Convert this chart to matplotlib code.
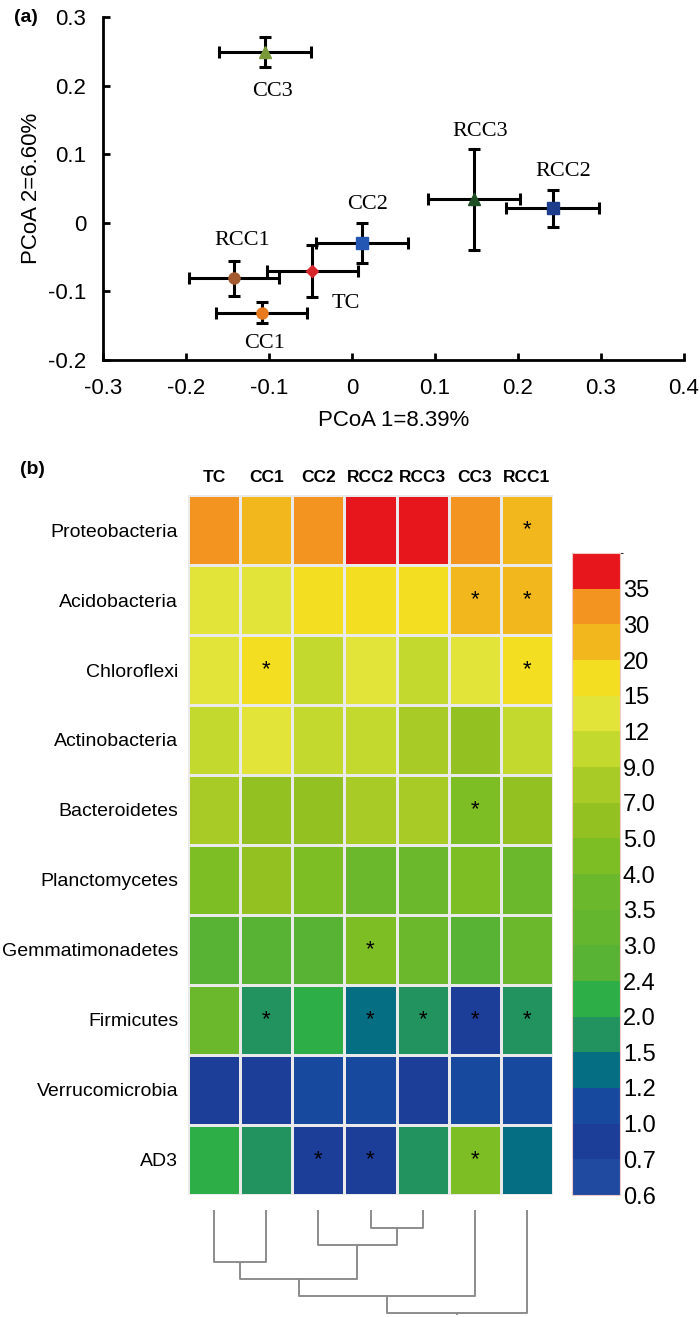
import numpy as np
import matplotlib
matplotlib.use('Agg')
import matplotlib.pyplot as plt
from matplotlib.colors import ListedColormap, BoundaryNorm

plt.rcParams['font.family'] = ['Liberation Sans', 'DejaVu Sans']
plt.rcParams['axes.unicode_minus'] = False

# ---- (a) PCoA data ----
groups = ['TC', 'CC1', 'CC2', 'RCC1', 'RCC2', 'RCC3', 'CC3']
pc1 = [-0.048, -0.109, 0.012, -0.142, 0.242, 0.147, -0.105]
pc2 = [-0.070, -0.131, -0.030, -0.081, 0.021, 0.034, 0.249]
pc1_err = [0.055, 0.055, 0.055, 0.054, 0.056, 0.055, 0.055]
pc2_err = [0.038, 0.015, 0.029, 0.026, 0.027, 0.074, 0.022]
label_pos = {'TC': (-0.008, -0.117), 'CC1': (-0.105, -0.176), 'CC2': (0.019, 0.027),
             'RCC1': (-0.132, -0.026), 'RCC2': (0.254, 0.075), 'RCC3': (0.154, 0.133),
             'CC3': (-0.096, 0.192)}
markers = {'TC': ('D', '#d7262b', 6), 'CC1': ('o', '#e97b1f', 8), 'CC2': ('s', '#2457b4', 8),
           'RCC1': ('o', '#a35a2e', 8), 'RCC2': ('s', '#1e3c8c', 8),
           'RCC3': ('^', '#1e4f24', 8), 'CC3': ('^', '#7a9a3a', 8)}

# ---- (b) heatmap data (relative abundance, %) ----
phyla = ['Proteobacteria', 'Acidobacteria', 'Chloroflexi', 'Actinobacteria', 'Bacteroidetes',
         'Planctomycetes', 'Gemmatimonadetes', 'Firmicutes', 'Verrucomicrobia', 'AD3']
samples = ['TC', 'CC1', 'CC2', 'RCC2', 'RCC3', 'CC3', 'RCC1']
abund = np.array([
    [32.0, 25.0, 31.0, 37.0, 36.0, 31.0, 24.0],
    [13.0, 13.0, 16.0, 16.0, 16.0, 21.0, 21.0],
    [13.5, 16.0, 10.0, 13.0, 10.5, 13.0, 15.5],
    [10.0, 12.5, 10.0, 10.0, 8.0, 6.0, 10.0],
    [8.0, 6.0, 6.0, 8.0, 8.0, 4.5, 6.0],
    [4.5, 5.5, 4.5, 3.7, 3.7, 4.5, 3.7],
    [2.7, 2.7, 2.8, 4.5, 3.7, 2.7, 3.7],
    [3.7, 1.7, 2.2, 1.3, 1.7, 0.8, 1.7],
    [0.8, 0.75, 1.1, 1.1, 0.8, 1.05, 1.1],
    [2.2, 1.7, 0.8, 0.8, 1.7, 4.5, 1.3],
])
signif = [('Proteobacteria', 'RCC1'), ('Acidobacteria', 'CC3'), ('Acidobacteria', 'RCC1'),
          ('Chloroflexi', 'CC1'), ('Chloroflexi', 'RCC1'), ('Bacteroidetes', 'CC3'),
          ('Gemmatimonadetes', 'RCC2'), ('Firmicutes', 'CC1'), ('Firmicutes', 'RCC2'),
          ('Firmicutes', 'RCC3'), ('Firmicutes', 'CC3'), ('Firmicutes', 'RCC1'),
          ('AD3', 'CC2'), ('AD3', 'RCC2'), ('AD3', 'CC3')]
bounds = [0.6, 0.7, 1.0, 1.2, 1.5, 2.0, 2.4, 3.0, 3.5, 4.0, 5.0, 7.0, 9.0, 12, 15, 20, 30, 35, 40]
bound_labels = ['0.6', '0.7', '1.0', '1.2', '1.5', '2.0', '2.4', '3.0', '3.5', '4.0', '5.0',
                '7.0', '9.0', '12', '15', '20', '30', '35']
level_colors = ['#1f4aa0', '#1c3d98', '#17499e', '#056e82', '#22925f', '#2dae47', '#58b233',
                '#64b62f', '#6cb82d', '#7dbe25', '#93c122', '#a9cb26', '#c3d92e', '#e3e43a',
                '#f3de22', '#f2b71d', '#f2941f', '#e7161c']
# column clustering: (left, right, height); leaves are 0..6, new clusters 7..
merges = [(3, 4, 1), (2, 7, 2), (0, 1, 3), (9, 8, 4), (10, 5, 5), (11, 6, 6)]

fig = plt.figure(figsize=(7, 13.17), dpi=100)

# ---------------- panel (a) ----------------
ax = fig.add_axes([103 / 700, 1 - 360 / 1317, 581 / 700, 343 / 1317])
ax.errorbar(pc1, pc2, xerr=pc1_err, yerr=pc2_err, fmt='none', ecolor='black',
            elinewidth=2.2, capsize=4.5, capthick=2.2, zorder=2)
for g, x, y in zip(groups, pc1, pc2):
    m, c, s = markers[g]
    ax.plot(x, y, marker=m, color=c, markersize=s, linestyle='none', zorder=3)
    lx, ly = label_pos[g]
    ax.text(lx, ly, g, family=['Liberation Serif', 'DejaVu Serif'], fontsize=16,
            ha='center', va='center')
ax.set_xlim(-0.3, 0.4)
ax.set_ylim(-0.2, 0.3)
ax.set_xticks([-0.3, -0.2, -0.1, 0, 0.1, 0.2, 0.3, 0.4])
ax.set_xticklabels(['-0.3', '-0.2', '-0.1', '0', '0.1', '0.2', '0.3', '0.4'])
ax.set_yticks([-0.2, -0.1, 0, 0.1, 0.2, 0.3])
ax.set_yticklabels(['-0.2', '-0.1', '0', '0.1', '0.2', '0.3'])
ax.spines['top'].set_visible(False)
ax.spines['right'].set_visible(False)
ax.spines['left'].set_linewidth(2)
ax.spines['bottom'].set_linewidth(2)
ax.tick_params(direction='in', length=5, width=2, labelsize=16)
ax.tick_params(axis='x', pad=13)
ax.tick_params(axis='y', pad=12)
ax.set_xlabel('PCoA 1=8.39%', fontsize=16, labelpad=8)
ax.set_ylabel('PCoA 2=6.60%', fontsize=16, labelpad=4)
fig.text(14 / 700, 1 - 18 / 1317, '(a)', fontsize=14, fontweight='bold', va='center')

# ---------------- panel (b) ----------------
cmap = ListedColormap(level_colors)
norm = BoundaryNorm(bounds, cmap.N)
hx = fig.add_axes([188 / 700, 1 - 1195 / 1317, 365 / 700, 700 / 1317])
mesh = hx.pcolormesh(abund, cmap=cmap, norm=norm, edgecolors='#eaeaea', linewidth=1)
hx.set_xlim(0, len(samples))
hx.set_ylim(len(phyla), 0)
for s in hx.spines.values():
    s.set_visible(False)
hx.xaxis.tick_top()
hx.set_xticks(np.arange(len(samples)) + 0.5)
hx.set_xticklabels(samples, fontsize=12.5, fontweight='bold')
hx.set_yticks(np.arange(len(phyla)) + 0.5)
hx.set_yticklabels(phyla, fontsize=14)
hx.tick_params(length=0, pad=7)
hx.tick_params(axis='y', pad=7)
for p, smp in signif:
    hx.text(samples.index(smp) + 0.5, phyla.index(p) + 0.5, '*', fontsize=16,
            ha='center', va='center', color='black')
fig.text(20 / 700, 1 - 470 / 1317, '(b)', fontsize=14, fontweight='bold', va='center')

cax = fig.add_axes([572 / 700, 1 - 1195 / 1317, 48 / 700, 642 / 1317])
cb = fig.colorbar(mesh, cax=cax, spacing='uniform', ticks=bounds[:-1])
cb.set_ticklabels(bound_labels)
cb.ax.tick_params(length=0, labelsize=17, pad=2)
cb.outline.set_edgecolor('#f0c8c8')
cb.outline.set_linewidth(0.8)

# dendrogram under the heatmap
dx = fig.add_axes([188 / 700, 1 - 1315 / 1317, 365 / 700, 105 / 1317])
pos = {i: (i + 0.5, 0.0) for i in range(len(samples))}
for k, (a, b, h) in enumerate(merges):
    xa, ha = pos[a]
    xb, hb = pos[b]
    dx.plot([xa, xa, xb, xb], [ha, h, h, hb], color='#8c8c8c', lw=1.4)
    pos[len(samples) + k] = ((xa + xb) / 2, h)
dx.plot([pos[len(pos) - 1][0]] * 2, [6, 6.1], color='#8c8c8c', lw=1.4)
dx.set_xlim(0, len(samples))
dx.set_ylim(6.1, -0.05)
dx.axis('off')

fig.savefig('out.png', dpi=100)
